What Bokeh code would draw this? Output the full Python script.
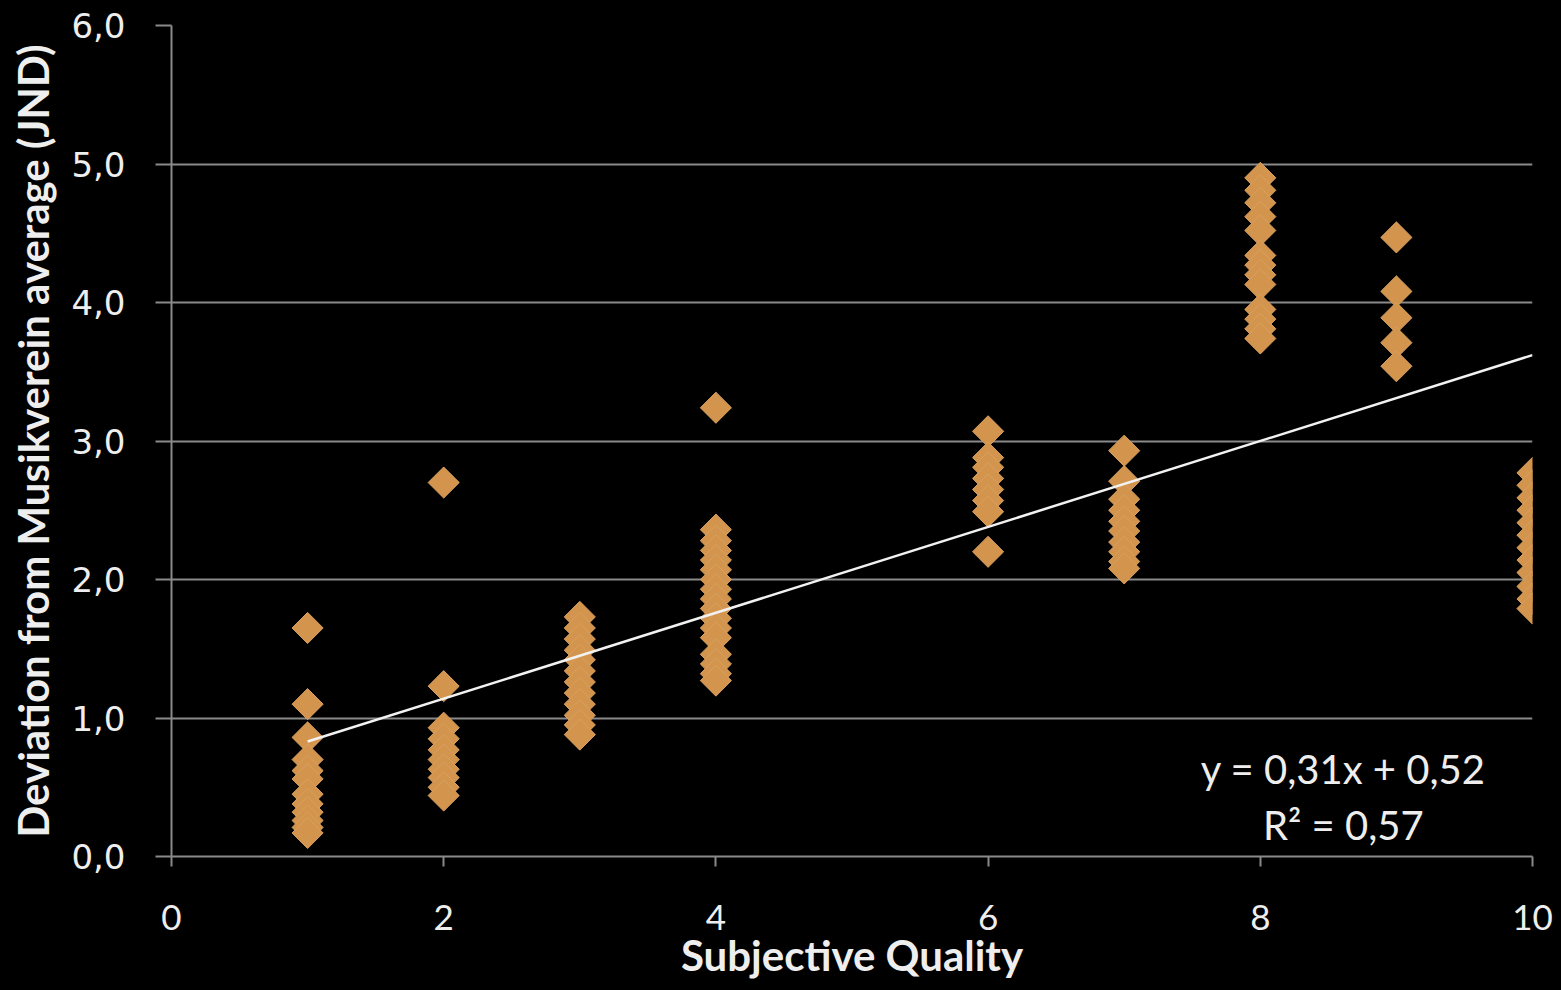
import numpy as np
from bokeh.plotting import figure
from bokeh.models import Range1d, Label, CustomJSTickFormatter, FixedTicker, ColumnDataSource
from bokeh.embed import file_html
from bokeh.resources import INLINE

# ---- data ----
quality_levels = [1, 2, 3, 4, 6, 7, 8, 9, 10]
dev_q1 = [1.65, 1.10, 0.86, 0.70, 0.62, 0.56, 0.45, 0.38, 0.32, 0.26, 0.21, 0.17]
dev_q2 = [2.70, 1.23, 0.93, 0.85, 0.77, 0.70, 0.63, 0.57, 0.50, 0.44]
dev_q3 = [1.73, 1.65, 1.57, 1.49, 1.42, 1.34, 1.26, 1.18, 1.10, 1.02, 0.95, 0.88]
dev_q4 = [3.24, 2.36, 2.28, 2.21, 2.14, 2.07, 2.00, 1.93, 1.86, 1.79, 1.72, 1.65,
          1.58, 1.46, 1.39, 1.32, 1.27]
dev_q6 = [3.07, 2.88, 2.81, 2.73, 2.65, 2.57, 2.49, 2.20]
dev_q7 = [2.93, 2.71, 2.58, 2.50, 2.42, 2.35, 2.27, 2.20, 2.13, 2.08]
dev_q8 = [4.90, 4.81, 4.72, 4.62, 4.52, 4.34, 4.27, 4.20, 4.13, 3.95, 3.88, 3.81, 3.74]
dev_q9 = [4.47, 4.08, 3.89, 3.71, 3.54]
dev_q10 = [2.77, 2.68, 2.59, 2.50, 2.41, 2.32, 2.23, 2.14, 2.05, 1.95, 1.86, 1.79]
groups = [dev_q1, dev_q2, dev_q3, dev_q4, dev_q6, dev_q7, dev_q8, dev_q9, dev_q10]

trend_slope = 0.31
trend_intercept = 0.52
r_squared = 0.57
trend_x = [1, 10]

x_ticks = [0, 2, 4, 6, 8, 10]
y_ticks = [0, 1, 2, 3, 4, 5, 6]

x_title = "Subjective Quality"
y_title = "Deviation from Musikverein average (JND)"

# ---- build sources ----
xs, ys = [], []
for q, vals in zip(quality_levels, groups):
    xs.extend([q] * len(vals))
    ys.extend(vals)
pts = ColumnDataSource(dict(x=xs, y=ys))
trend_y = [trend_slope * t + trend_intercept for t in trend_x]

NARROW = "Lato"
GRID = "#8a8a8a"
TXT = "#eeeeee"

p = figure(width=1553, height=982, x_range=Range1d(0, 10), y_range=Range1d(0, 6),
           output_backend="svg", toolbar_location=None,
           min_border_left=171, min_border_right=21, min_border_top=25, min_border_bottom=125)
p.background_fill_color = "black"
p.border_fill_color = "black"
p.outline_line_color = None

p.xgrid.visible = False
p.ygrid.grid_line_color = GRID
p.ygrid.grid_line_width = 2
p.ygrid.ticker = FixedTicker(ticks=y_ticks)

for ax in (p.xaxis[0], p.yaxis[0]):
    ax.axis_line_color = GRID
    ax.axis_line_width = 2
    ax.major_tick_line_color = GRID
    ax.major_tick_line_width = 2
    ax.major_tick_in = 0
    ax.minor_tick_line_color = None
    ax.major_label_text_color = TXT
    ax.axis_label_text_color = TXT
    ax.axis_label_text_font = NARROW
    ax.axis_label_text_font_style = "bold"
    ax.axis_label_text_font_size = "42px"

p.xaxis.ticker = FixedTicker(ticks=x_ticks)
p.xaxis.major_tick_out = 10
p.xaxis.major_label_text_font = NARROW
p.xaxis.major_label_text_font_size = "35px"
p.xaxis.major_label_standoff = 38
p.xaxis.axis_label = x_title
p.xaxis.axis_label_standoff = -3

p.yaxis.ticker = FixedTicker(ticks=y_ticks)
p.yaxis.major_tick_out = 16
p.yaxis.major_label_text_font = "DejaVu Sans"
p.yaxis.major_label_text_font_size = "34px"
p.yaxis.major_label_standoff = 30
p.yaxis.formatter = CustomJSTickFormatter(code="return tick.toFixed(1).replace('.', ',');")
p.yaxis.axis_label = y_title
p.yaxis.axis_label_standoff = 10

p.scatter("x", "y", source=pts, marker="square", angle=np.pi / 4, size=22,
          fill_color="#D3954D", line_color="#D9A060", line_width=1)

p.line(trend_x, trend_y, line_color="#f2f2f2", line_width=2.5)

fmt = lambda v: f"{v:.2f}".replace(".", ",")
p.add_layout(Label(x=8.61, y=0.63, text=f"y = {fmt(trend_slope)}x + {fmt(trend_intercept)}",
                   text_align="center", text_baseline="middle", text_color=TXT,
                   text_font=NARROW, text_font_size="40px"))
p.add_layout(Label(x=8.61, y=0.23, text=f"R² = {fmt(r_squared)}",
                   text_align="center", text_baseline="middle", text_color=TXT,
                   text_font=NARROW, text_font_size="40px"))

html = file_html(p, INLINE)
html = html.replace("<head>", "<head><style>html,body{background:#000;}</style>", 1)
open("out.html", "w").write(html)
